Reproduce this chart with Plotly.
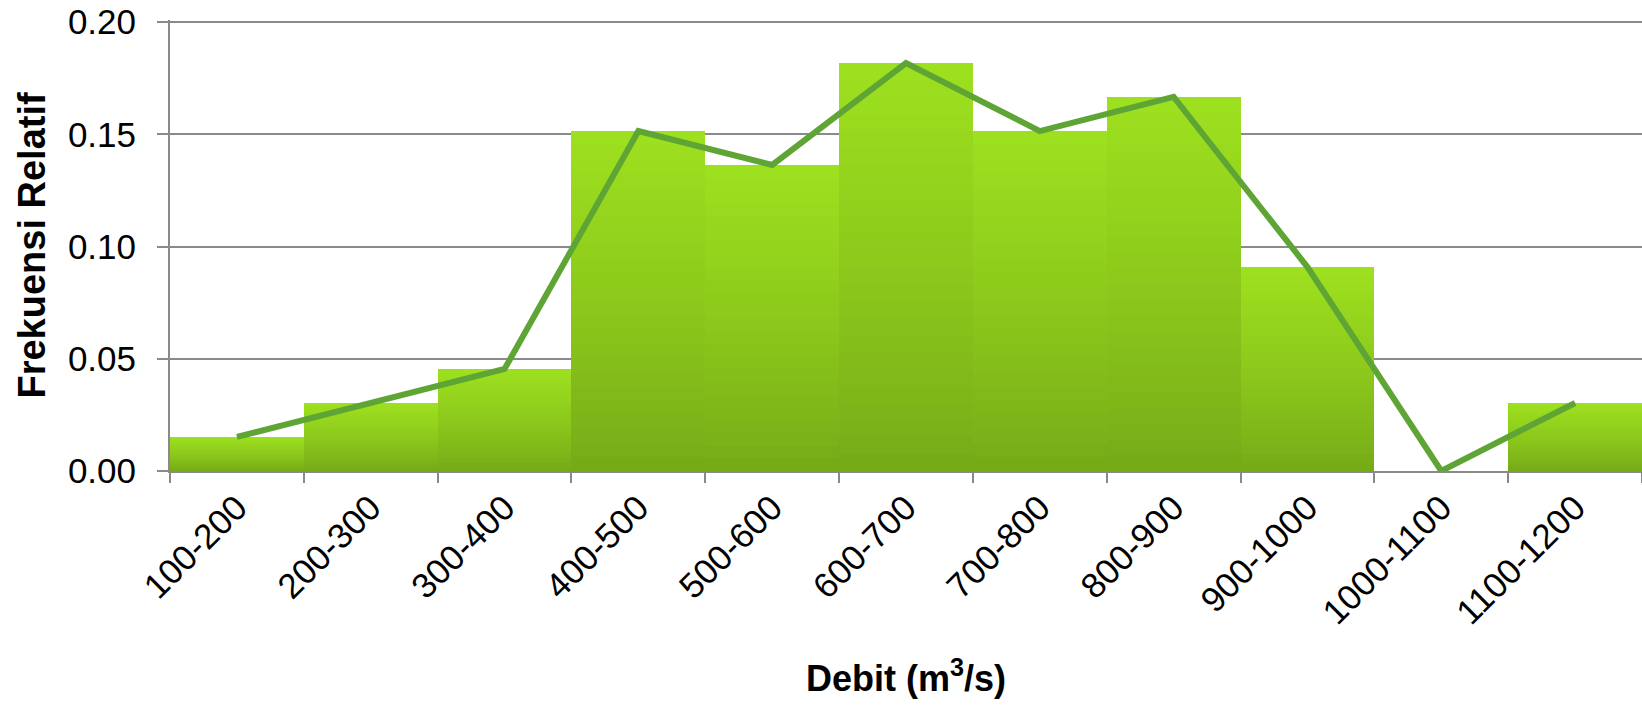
import plotly.graph_objects as go

# Kelas debit dan frekuensi relatif (n = 66)
kelas = ['100-200', '200-300', '300-400', '400-500', '500-600', '600-700',
         '700-800', '800-900', '900-1000', '1000-1100', '1100-1200']
frek_relatif = [0.0152, 0.0303, 0.0455, 0.1515, 0.1364, 0.1818,
                0.1515, 0.1667, 0.0909, 0.0, 0.0303]

y_ticks = [0.0, 0.05, 0.10, 0.15, 0.20]

FONT = 'Liberation Sans'
GRID = '#8a8a8a'


def mix(c1, c2, t):
    a = [int(c1[i:i + 2], 16) for i in (1, 3, 5)]
    b = [int(c2[i:i + 2], 16) for i in (1, 3, 5)]
    return 'rgb({},{},{})'.format(*[round(a[i] + (b[i] - a[i]) * t) for i in range(3)])


fig = go.Figure()

# Batang dengan gradasi: beberapa lapisan bertumpuk (terang di atas, gelap di bawah)
n_lapis = 24
for k in range(n_lapis):
    frac = (n_lapis - k) / n_lapis
    fig.add_trace(go.Bar(
        x=kelas,
        y=[v * frac for v in frek_relatif],
        marker=dict(color=mix('#73a617', '#9de01f', frac ** 0.8), line=dict(width=0)),
        showlegend=False,
        hoverinfo='skip'
    ))

# Poligon frekuensi
fig.add_trace(go.Scatter(
    x=kelas,
    y=frek_relatif,
    mode='lines',
    line=dict(color='#5ea535', width=6),
    showlegend=False
))

# judul sumbu sebagai anotasi supaya posisinya pas
fig.add_annotation(
    text='<b>Debit (m<sup>3</sup>/s)</b>',
    xref='paper', yref='paper', x=0.5, y=-0.51,
    xanchor='center', yanchor='bottom', showarrow=False,
    font=dict(size=36)
)
fig.add_annotation(
    text='<b>Frekuensi Relatif</b>',
    xref='paper', yref='paper', x=-0.0944, y=0.5,
    xanchor='center', yanchor='middle', textangle=-90, showarrow=False,
    font=dict(size=38)
)

fig.update_layout(
    width=1642,
    height=706,
    barmode='overlay',
    bargap=0,
    plot_bgcolor='white',
    paper_bgcolor='white',
    font=dict(family=FONT, size=34, color='black'),
    margin=dict(l=170, r=0, t=20, b=235),
    xaxis=dict(
        tickangle=-45,
        tickson='boundaries',
        ticks='outside',
        ticklen=10,
        tickcolor=GRID,
        tickwidth=2,
        showline=True,
        linecolor=GRID,
        linewidth=2,
        tickfont=dict(size=35),
        automargin=False
    ),
    yaxis=dict(
        range=[0, 0.201],
        tickvals=y_ticks,
        tickformat='.2f',
        ticks='outside',
        ticklen=11,
        tickcolor=GRID,
        tickwidth=2,
        ticklabelstandoff=14,
        ticklabeloverflow='allow',
        showline=True,
        linecolor=GRID,
        linewidth=2,
        showgrid=True,
        gridcolor=GRID,
        gridwidth=2,
        zeroline=False,
        tickfont=dict(size=35),
        automargin=False
    )
)

# margin body bawaan dibuang supaya grafik menempel di pojok kiri atas
fig.write_html("out.html", config={'displayModeBar': False},
               post_script="document.body.style.margin='0';")
